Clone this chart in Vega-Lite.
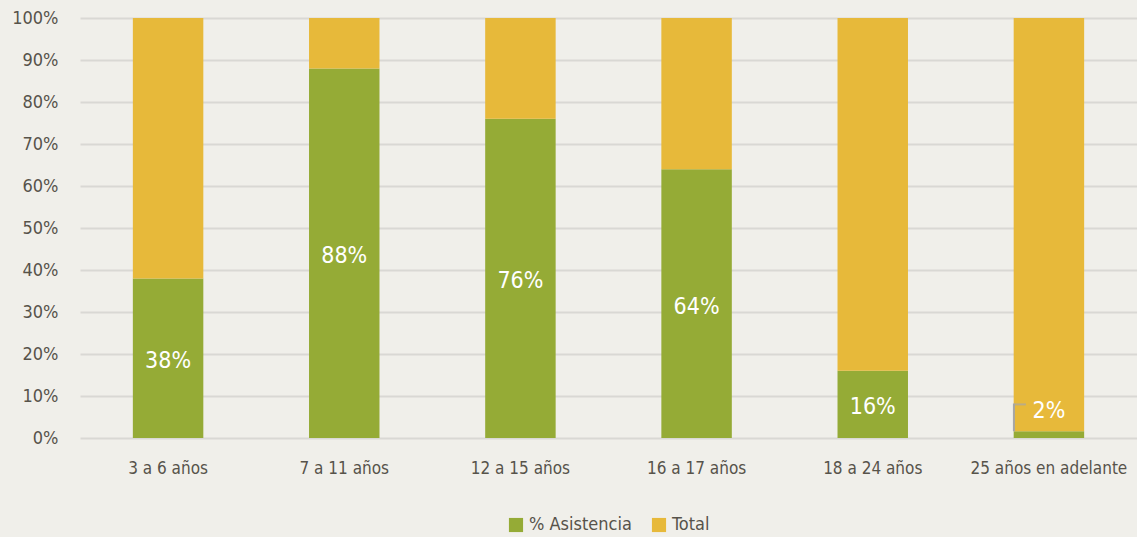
{
  "$schema": "https://vega.github.io/schema/vega-lite/v6.json",
  "autosize": {"type": "fit", "contains": "padding"},
  "width": 1137,
  "height": 537,
  "padding": {"left": 11, "top": 9, "right": 0, "bottom": 3},
  "background": "#f0efea",
  "data": {
    "values": [
      {"grupo": "3 a 6 años", "serie": "% Asistencia", "valor": 38},
      {"grupo": "3 a 6 años", "serie": "Total", "valor": 62},
      {"grupo": "7 a 11 años", "serie": "% Asistencia", "valor": 88},
      {"grupo": "7 a 11 años", "serie": "Total", "valor": 12},
      {"grupo": "12 a 15 años", "serie": "% Asistencia", "valor": 76},
      {"grupo": "12 a 15 años", "serie": "Total", "valor": 24},
      {"grupo": "16 a 17 años", "serie": "% Asistencia", "valor": 64},
      {"grupo": "16 a 17 años", "serie": "Total", "valor": 36},
      {"grupo": "18 a 24 años", "serie": "% Asistencia", "valor": 16},
      {"grupo": "18 a 24 años", "serie": "Total", "valor": 84},
      {"grupo": "25 años en adelante", "serie": "% Asistencia", "valor": 1.6},
      {"grupo": "25 años en adelante", "serie": "Total", "valor": 98.4}
    ]
  },
  "encoding": {
    "x": {
      "field": "grupo",
      "type": "nominal",
      "sort": null,
      "scale": {"paddingInner": 0.6, "paddingOuter": 0.3},
      "axis": {"title": null, "labelAngle": 0, "domain": false, "ticks": false, "labelPadding": 22, "labelFontSize": 17, "labelColor": "#57534a", "labelFont": "DejaVu Sans Condensed"}
    }
  },
  "layer": [
    {
      "mark": {"type": "bar"},
      "encoding": {
        "y": {
          "field": "valor",
          "type": "quantitative",
          "stack": "zero",
          "scale": {"domain": [0, 100]},
          "axis": {"title": null, "values": [0,10,20,30,40,50,60,70,80,90,100], "labelExpr": "datum.value + '%'", "domain": false, "ticks": false, "labelPadding": 22, "labelFontSize": 18, "labelColor": "#57534a", "labelFont": "DejaVu Sans Condensed", "gridColor": "#d9d8d4", "gridWidth": 2}
        },
        "color": {
          "field": "serie",
          "type": "nominal",
          "scale": {"domain": ["% Asistencia", "Total"], "range": ["#95ab36", "#e7b93a"]},
          "legend": {"title": null, "orient": "bottom", "direction": "horizontal", "symbolType": "square", "symbolSize": 200, "symbolStrokeWidth": 0, "labelFontSize": 18, "labelColor": "#57534a", "labelFont": "DejaVu Sans Condensed", "columnPadding": 18, "offset": 40}
        },
        "order": {"field": "serie", "sort": "ascending"}
      }
    },
    {
      "transform": [
        {"filter": "datum.serie === '% Asistencia'"},
        {"calculate": "datum.valor < 5 ? 7.2 : datum.valor / 2", "as": "pos"},
        {"calculate": "format(datum.valor, '.0f') + '%'", "as": "etiqueta"}
      ],
      "mark": {"type": "text", "color": "white", "fontSize": 23, "font": "DejaVu Sans Condensed", "baseline": "middle", "align": "center", "dy": 3},
      "encoding": {
        "y": {"field": "pos", "type": "quantitative"},
        "text": {"field": "etiqueta"}
      }
    },
    {
      "transform": [
        {"filter": "datum.serie === '% Asistencia' && datum.valor < 5"},
        {"calculate": "8.2", "as": "top"}
      ],
      "mark": {"type": "rule", "color": "#a6a6a6", "strokeWidth": 2, "xOffset": -35},
      "encoding": {
        "y": {"field": "valor", "type": "quantitative"},
        "y2": {"field": "top"}
      }
    },
    {
      "transform": [
        {"filter": "datum.serie === '% Asistencia' && datum.valor < 5"},
        {"calculate": "8", "as": "top"}
      ],
      "mark": {"type": "tick", "color": "#a6a6a6", "thickness": 2, "size": 12, "xOffset": -29, "orient": "horizontal"},
      "encoding": {
        "y": {"field": "top", "type": "quantitative"}
      }
    }
  ],
  "config": {
    "view": {"stroke": null},
    "legend": {"layout": {"bottom": {"anchor": "middle"}}}
  }
}
